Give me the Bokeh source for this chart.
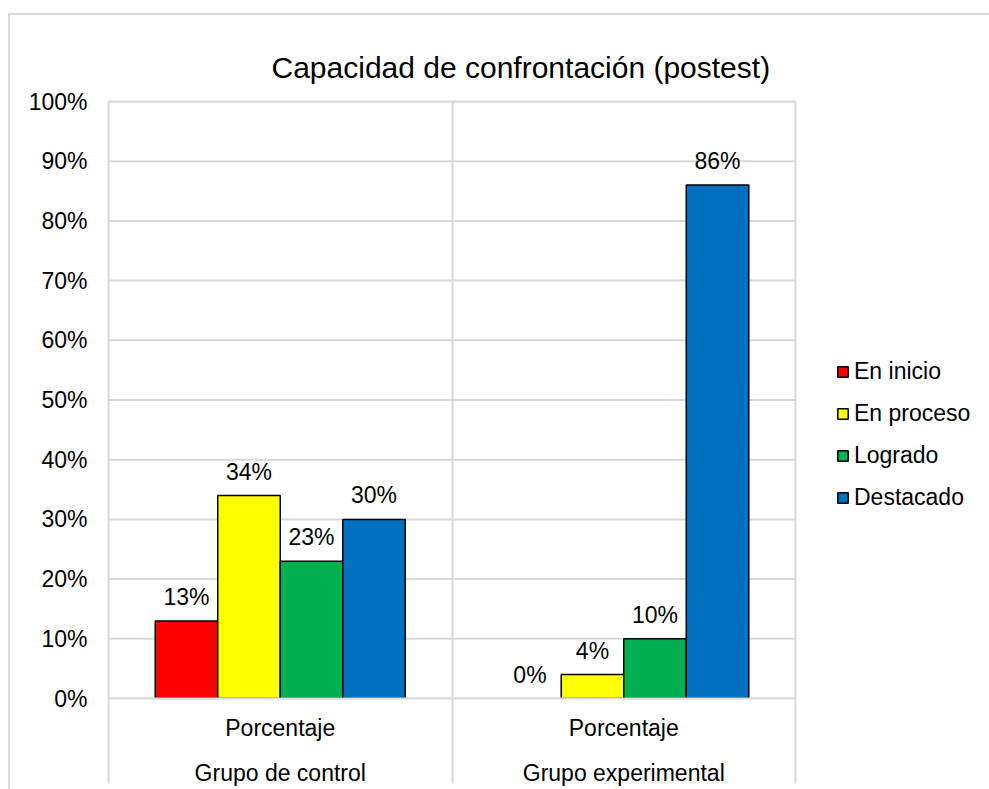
from bokeh.plotting import figure
from bokeh.models import (Range1d, FixedTicker, LinearAxis, PrintfTickFormatter, Legend, LegendItem,
                          ColumnDataSource, LabelSet, InlineStyleSheet)
from bokeh.core.properties import value
from bokeh.embed import file_html
from bokeh.resources import INLINE

groups = ["Grupo de control", "Grupo experimental"]
sublabel = "Porcentaje"
levels = ["En inicio", "En proceso", "Logrado", "Destacado"]
colors = ["#FF0000", "#FFFF00", "#00B050", "#0070C0"]
control = [13, 34, 23, 30]
experimental = [0, 4, 10, 86]
y_ticks = [0, 10, 20, 30, 40, 50, 60, 70, 80, 90, 100]

FONT = "Liberation Sans"
GRID = "#d9d9d9"

W, H = 989, 789
LEFT, TOP, BOTTOM = 108, 101, 91
PLOT_W = 687                       # width of the plotting area (bars)
FRAME_W = W - LEFT                 # frame extends under the legend
ncat = len(groups)
x_end = ncat * FRAME_W / PLOT_W

p = figure(width=W, height=H, output_backend="svg", toolbar_location=None,
           x_range=Range1d(0, x_end), y_range=Range1d(0, 100),
           min_border_left=LEFT, min_border_right=0, min_border_top=TOP, min_border_bottom=BOTTOM,
           background_fill_color="white", border_fill_color="white")
p.outline_line_color = None

# outer chart-area border (drawn with CSS on the figure host)
p.stylesheets = [InlineStyleSheet(css=(
    ":host { position: relative; }"
    ":host::after { content: ''; position: absolute; left: 8px; top: 13px; width: 3000px; height: 3000px;"
    " border-left: 2px solid #d9d9d9; border-top: 2px solid #d9d9d9; pointer-events: none; }"))]

# x axes (two levels) -- the default bottom axis first
centers = [i + 0.5 for i in range(ncat)]
bounds = [float(i) for i in range(ncat + 1)]
TICK_EXT = 85
ax1 = p.below[0]
ax1.ticker = FixedTicker(ticks=centers, minor_ticks=bounds)
ax1.bounds = (0, ncat)
ax1.major_label_overrides = {c: sublabel for c in centers}
ax1.axis_line_color = GRID
ax1.axis_line_width = 2
ax1.major_tick_line_color = None
ax1.major_tick_out = 0
ax1.major_tick_in = 0
ax1.minor_tick_line_color = GRID
ax1.minor_tick_line_width = 2
ax1.minor_tick_out = TICK_EXT
ax1.minor_tick_in = 0
ax1.major_label_standoff = 16 - TICK_EXT
ax1.major_label_text_font = FONT
ax1.major_label_text_font_size = "23px"
ax1.major_label_text_color = "#000000"

ax2 = LinearAxis(ticker=FixedTicker(ticks=centers),
                 major_label_overrides={c: g for c, g in zip(centers, groups)})
ax2.axis_line_color = None
ax2.major_tick_line_color = None
ax2.minor_tick_line_color = None
ax2.major_tick_out = 0
ax2.major_tick_in = 0
ax2.major_label_standoff = 16
ax2.major_label_text_font = FONT
ax2.major_label_text_font_size = "23px"
ax2.major_label_text_color = "#000000"
p.add_layout(ax2, "below")

# top border line of the plot area
top_ax = LinearAxis(ticker=FixedTicker(ticks=[], minor_ticks=[]), bounds=(0, ncat))
top_ax.axis_line_color = GRID
top_ax.axis_line_width = 2
top_ax.major_tick_line_color = None
top_ax.minor_tick_line_color = None
top_ax.major_label_text_font_size = "0px"
top_ax.major_label_standoff = 0
top_ax.major_tick_out = 0
top_ax.major_tick_in = 0
top_ax.minor_tick_out = 0
top_ax.minor_tick_in = 0
p.add_layout(top_ax, "above")

# title
p.title.text = "Capacidad de confrontación (postest)"
p.title.text_font = FONT
p.title.text_font_size = "30px"
p.title.text_font_style = "normal"
p.title.text_color = "#000000"
p.title.align = "left"
p.title.offset = 163
p.title.standoff = 36

# grids: vertical separators from the grid, horizontal ones limited to the plot area
p.xgrid.ticker = FixedTicker(ticks=[float(i) for i in range(1, ncat + 1)])
p.xgrid.grid_line_color = GRID
p.xgrid.grid_line_width = 2
p.ygrid.grid_line_color = None
p.segment(x0=[0] * len(y_ticks), x1=[ncat] * len(y_ticks), y0=y_ticks, y1=y_ticks,
          line_color=GRID, line_width=2)

# y axis
p.yaxis.ticker = FixedTicker(ticks=y_ticks)
p.yaxis.formatter = PrintfTickFormatter(format="%d%%")
p.yaxis.axis_line_color = GRID
p.yaxis.axis_line_width = 2
p.yaxis.major_tick_line_color = None
p.yaxis.minor_tick_line_color = None
p.yaxis.major_tick_out = 0
p.yaxis.major_tick_in = 0
p.yaxis.major_label_standoff = 21
p.yaxis.major_label_text_font = FONT
p.yaxis.major_label_text_font_size = "23px"
p.yaxis.major_label_text_color = "#000000"

# bars
n = len(levels)
bw = 0.182
items = []
for j, (lvl, col) in enumerate(zip(levels, colors)):
    off = (j - (n - 1) / 2) * bw
    vals = [control[j], experimental[j]]
    src = ColumnDataSource(dict(x=[c + off for c in centers], top=vals,
                                lab=[f"{v}%" for v in vals],
                                la=[1.0 if v > 0 else 0.0 for v in vals]))
    r = p.vbar(x="x", top="top", width=bw, bottom=0, source=src, fill_color=col,
               line_color="#000000", line_width=1.5, line_alpha="la")
    items.append(LegendItem(label=lvl, renderers=[r]))
    p.add_layout(LabelSet(x="x", y="top", text="lab", source=src, text_align="center",
                          text_baseline="alphabetic", y_offset=16, text_font=value(FONT),
                          text_font_size=value("23px"), text_color="#000000"))

legend = Legend(items=items, location=(728, 187), orientation="vertical")
legend.padding = 0
legend.margin = 0
legend.border_line_color = None
legend.background_fill_alpha = 0
legend.glyph_width = 13
legend.glyph_height = 13
legend.label_standoff = 5
legend.label_height = 26
legend.spacing = 15
legend.label_text_font = FONT
legend.label_text_font_size = "23px"
legend.label_text_color = "#000000"
p.add_layout(legend)

open("out.html", "w").write(file_html(p, INLINE))
